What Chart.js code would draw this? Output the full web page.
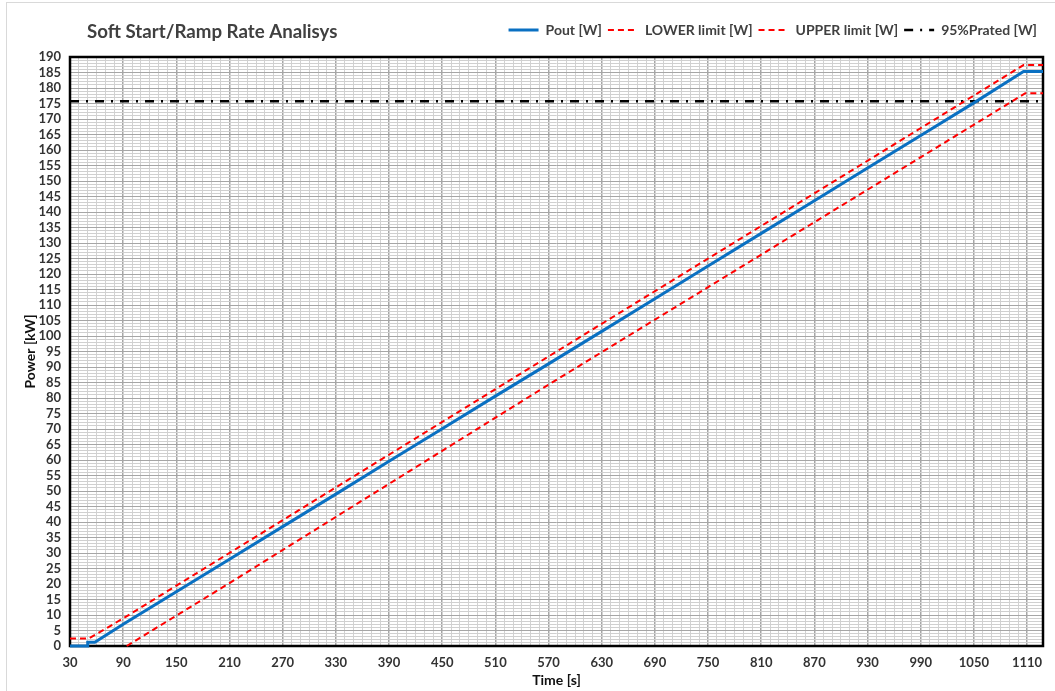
<!DOCTYPE html>
<html><head><meta charset="utf-8">
<script src="https://cdn.jsdelivr.net/npm/chart.js@4.4.1/dist/chart.umd.min.js"></script>
<style>
html,body{margin:0;padding:0;background:#fff;overflow:hidden}
#wrap{position:relative;width:1055px;height:691px}
#frame{position:absolute;left:6px;top:2px;width:1200px;height:800px;border:1px solid #d9d9d9;pointer-events:none}
canvas{position:absolute;left:0;top:0}
</style></head><body>
<div id="wrap"><canvas id="c" width="1055" height="691"></canvas><div id="frame"></div></div>
<script>
const chartTitle = 'Soft Start/Ramp Rate Analisys';
const seriesNames = ['Pout [W]', 'LOWER limit [W]', 'UPPER limit [W]', '95%Prated [W]'];

const poutTime  = [30, 50, 50, 58, 90, 150, 210, 270, 330, 390, 450, 510, 570, 630, 690, 750, 810, 870, 930, 990, 1050, 1106, 1128];
const poutValue = [0, 0, 1.2, 1.2, 7.0, 17.5, 28.0, 38.5, 49.0, 59.6, 70.1, 80.6, 91.0, 101.5, 112.0, 122.6, 133.1, 143.6, 154.2, 164.7, 175.2, 185.3, 185.3];

const lowerTime  = [94, 150, 210, 570, 1080, 1108, 1128];
const lowerValue = [0, 9.8, 20.3, 84.3, 173.4, 178.3, 178.3];

const upperTime  = [30, 51, 90, 570, 1106, 1128];
const upperValue = [2.4, 2.4, 8.9, 93.4, 187.4, 187.4];

const ratedTime  = [30, 1128];
const ratedValue = [175.75, 175.75];

const xMin = 30, xMax = 1128, xMinorStep = 10, xLabelStep = 60;
const yMin = 0, yMax = 190, yMinorStep = 1, yLabelStep = 5;

const pts = (t, v) => t.map((x, i) => ({x, y: v[i]}));
const FONT = 'Lato, "Open Sans", sans-serif';

const isXMajor = v => { const r = Math.round(v); return (r - xMin) % xLabelStep === 0 && r <= 1110; };
const isYMajor = v => Math.round(v) % yLabelStep === 0;

const legendGap = {
  id: 'legendGap',
  beforeInit(chart) {
    if (!chart.legend) return;
    const origFit = chart.legend.fit;
    chart.legend.fit = function () {
      origFit.call(this);
      this.height += 10;
    };
  }
};

const framePlugin = {
  id: 'frame',
  beforeDatasetsDraw(chart) {
    const {ctx, chartArea: a} = chart;
    ctx.save();
    ctx.strokeStyle = '#000';
    ctx.lineWidth = 2.5;
    ctx.strokeRect(a.left, a.top, a.right - a.left, a.bottom - a.top);
    ctx.restore();
  },
  afterDraw(chart) {
    const {ctx} = chart;
    ctx.save();
    ctx.font = 'bold 18.7px ' + FONT;
    ctx.fillStyle = '#404040';
    ctx.textBaseline = 'middle';
    ctx.textAlign = 'left';
    ctx.fillText(chartTitle, 87, 32);
    ctx.restore();
  }
};

new Chart(document.getElementById('c'), {
  type: 'line',
  data: {
    datasets: [
      {label: seriesNames[0], data: pts(poutTime, poutValue), borderColor: '#0A70C2', backgroundColor: '#0A70C2', borderWidth: 3, borderDash: []},
      {label: seriesNames[1], data: pts(lowerTime, lowerValue), borderColor: '#FF0000', backgroundColor: '#FF0000', borderWidth: 2, borderDash: [6, 4]},
      {label: seriesNames[2], data: pts(upperTime, upperValue), borderColor: '#FF0000', backgroundColor: '#FF0000', borderWidth: 2, borderDash: [6, 4]},
      {label: seriesNames[3], data: pts(ratedTime, ratedValue), borderColor: '#000000', backgroundColor: '#000000', borderWidth: 2.5, borderDash: [9, 7, 2, 7]}
    ]
  },
  options: {
    responsive: false,
    animation: false,
    devicePixelRatio: 1,
    elements: {point: {radius: 0, hoverRadius: 0}, line: {tension: 0, fill: false}},
    datasets: {line: {clip: false}},
    layout: {padding: {top: 17, right: 12, left: 0, bottom: 0}},
    plugins: {
      tooltip: {enabled: false},
      legend: {
        position: 'top',
        align: 'end',
        labels: {
          usePointStyle: true,
          pointStyle: 'line',
          pointStyleWidth: 30,
          font: {family: FONT, size: 14, weight: 'bold'},
          color: '#404040',
          padding: 6,
          generateLabels(chart) {
            return chart.data.datasets.map((ds, i) => ({
              text: ds.label,
              fillStyle: ds.borderColor,
              strokeStyle: ds.borderColor,
              lineWidth: ds.borderWidth,
              lineDash: ds.borderDash,
              lineCap: 'butt',
              pointStyle: 'line',
              fontColor: '#404040',
              hidden: false,
              datasetIndex: i
            }));
          }
        }
      }
    },
    scales: {
      x: {
        type: 'linear',
        min: xMin, max: xMax,
        ticks: {
          stepSize: xMinorStep, autoSkip: false, maxTicksLimit: 1000, maxRotation: 0,
          font: {family: FONT, size: 13, weight: 'bold'}, color: '#333', padding: 9,
          callback: v => isXMajor(v) ? String(Math.round(v)) : ''
        },
        grid: {
          drawTicks: false,
          color: c => isXMajor(c.tick.value) ? '#a6a6a6' : '#d2d2d2',
          lineWidth: c => isXMajor(c.tick.value) ? 1.5 : 1
        },
        border: {display: false},
        title: {display: true, text: 'Time [s]', font: {family: FONT, size: 14, weight: 'bold'}, color: '#111', padding: {top: 0, bottom: 2}},
        afterFit: s => { s.height = 45; }
      },
      y: {
        type: 'linear',
        min: yMin, max: yMax,
        ticks: {
          stepSize: yMinorStep, autoSkip: false, maxTicksLimit: 1000,
          font: {family: FONT, size: 13, weight: 'bold'}, color: '#333', padding: 9,
          callback: v => isYMajor(v) ? String(Math.round(v)) : ''
        },
        grid: {
          drawTicks: false,
          color: c => isYMajor(c.tick.value) ? '#a6a6a6' : '#d0d0d0',
          lineWidth: 1
        },
        border: {display: false},
        title: {display: true, text: 'Power [kW]', font: {family: FONT, size: 14, weight: 'bold'}, color: '#111', padding: {top: 22, bottom: 0}},
        afterFit: s => { s.width = 70; }
      }
    }
  },
  plugins: [legendGap, framePlugin]
});
</script>
</body></html>
